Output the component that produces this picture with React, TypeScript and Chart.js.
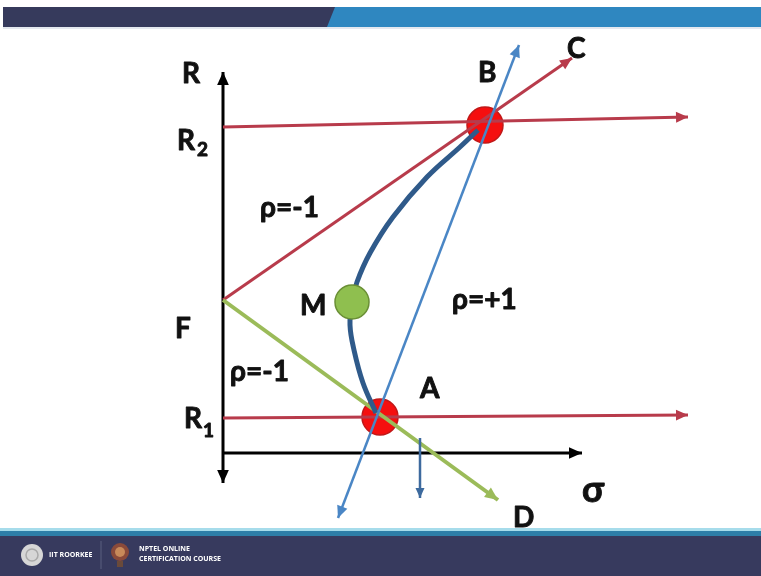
import React, { useEffect, useRef } from "react";
import { Chart, registerables } from "chart.js";

Chart.register(...registerables);

// Key portfolios on the risk (σ) / return (R) plane
const F = { sigma: 0, r: 3.825 };
const A = { sigma: 3.925, r: 0.9 };
const B = { sigma: 6.55, r: 8.2 };
const M = { sigma: 3.225, r: 3.775 };

// Straight reference lines: [start, end] as [σ, R]
const lineR2 = [[0, 8.15], [11.625, 8.4]];
const lineR1 = [[0, 0.875], [11.625, 0.95]];
const lineFC = [[F.sigma, F.r], [8.725, 9.875]];
const lineFD = [[F.sigma, F.r], [6.875, -1.175]];
const linePlusOne = [[2.875, -1.625], [7.4, 10.2]];
const axisR = [[0, -0.75], [0, 9.525]];
const axisSigma = [[0, 0], [8.975, 0]];
const dropArrow = [[4.925, 0.375], [4.925, -1.125]];

// Two-asset frontier from A through M to B
const frontierSigma = [3.825, 3.5, 3.275, 3.175, 3.225, 3.35, 3.675, 4.25, 5.1, 5.925, 6.375];
const frontierR = [1.0, 1.75, 2.575, 3.2, 3.775, 4.275, 5.0, 5.9, 6.9, 7.65, 8.075];

// Text labels: [text, σ, R, size]
const labels: [string, number, number, number][] = [
  ["R", -1.025, 9.25, 28],
  ["R", -1.15, 7.575, 28],
  ["2", -0.65, 7.425, 19],
  ["ρ=-1", 0.925, 5.9, 28],
  ["F", -1.2, 2.875, 28],
  ["ρ=-1", 0.175, 1.8, 28],
  ["R", -0.975, 0.625, 28],
  ["1", -0.5, 0.4, 19],
  ["M", 1.925, 3.45, 28],
  ["ρ=+1", 5.725, 3.6, 28],
  ["A", 4.925, 1.375, 28],
  ["B", 6.375, 9.275, 28],
  ["C", 8.6, 9.875, 28],
  ["D", 7.25, -1.85, 28],
  ["σ", 8.975, -1.225, 36],
];

const toPts = (seg: number[][]) => seg.map(([x, y]) => ({ x, y }));

const RED = "#b83b4b";
const BLUE = "#4a86c5";
const DARK_BLUE = "#2f5a8a";
const GREEN = "#9bbb59";

type Arrow = "end" | "both" | undefined;

function seg(data: number[][], color: string, width: number, order: number, arrow: Arrow, head = 12) {
  return {
    data: toPts(data),
    showLine: true,
    borderColor: color,
    backgroundColor: color,
    borderWidth: width,
    pointRadius: 0,
    order,
    arrow,
    head,
  } as any;
}

function drawHead(ctx: CanvasRenderingContext2D, from: { x: number; y: number }, to: { x: number; y: number }, color: string, size: number) {
  const ang = Math.atan2(to.y - from.y, to.x - from.x);
  const half = size * 0.45;
  ctx.save();
  ctx.fillStyle = color;
  ctx.beginPath();
  ctx.moveTo(to.x, to.y);
  ctx.lineTo(to.x - size * Math.cos(ang) + half * Math.sin(ang), to.y - size * Math.sin(ang) - half * Math.cos(ang));
  ctx.lineTo(to.x - size * Math.cos(ang) - half * Math.sin(ang), to.y - size * Math.sin(ang) + half * Math.cos(ang));
  ctx.closePath();
  ctx.fill();
  ctx.restore();
}

const arrowPlugin = {
  id: "arrowHeads",
  afterDatasetDraw(chart: any, args: any) {
    const ds = chart.data.datasets[args.index];
    if (!ds.arrow) return;
    const pts = args.meta.data;
    const n = pts.length;
    const ctx = chart.ctx;
    drawHead(ctx, pts[n - 2], pts[n - 1], ds.borderColor, ds.head);
    if (ds.arrow === "both") drawHead(ctx, pts[1], pts[0], ds.borderColor, ds.head);
  },
};

const slidePlugin = {
  id: "slideFrame",
  beforeDraw(chart: any) {
    const ctx = chart.ctx as CanvasRenderingContext2D;
    const w = chart.width;
    const h = chart.height;
    ctx.save();
    ctx.fillStyle = "#ffffff";
    ctx.fillRect(0, 0, w, h);
    // header band
    ctx.fillStyle = "#2f87c0";
    ctx.fillRect(3, 7, w - 3, 20);
    ctx.fillStyle = "#363a5c";
    ctx.beginPath();
    ctx.moveTo(3, 7);
    ctx.lineTo(335, 7);
    ctx.lineTo(327, 27);
    ctx.lineTo(3, 27);
    ctx.closePath();
    ctx.fill();
    ctx.fillStyle = "#e4e8ef";
    ctx.fillRect(3, 27, w - 3, 2);
    // footer band
    ctx.fillStyle = "#a6dceb";
    ctx.fillRect(0, 528, w, 3);
    ctx.fillStyle = "#2d7ea8";
    ctx.fillRect(0, 531, w, 5);
    ctx.fillStyle = "#373a5e";
    ctx.fillRect(0, 536, w, h - 536);
    // footer logos
    ctx.fillStyle = "#d6d6d6";
    ctx.beginPath();
    ctx.arc(32, 555, 11, 0, Math.PI * 2);
    ctx.fill();
    ctx.strokeStyle = "#a9a9a9";
    ctx.lineWidth = 1.5;
    ctx.beginPath();
    ctx.arc(32, 555, 6, 0, Math.PI * 2);
    ctx.stroke();
    ctx.strokeStyle = "#5a5e7e";
    ctx.lineWidth = 1;
    ctx.beginPath();
    ctx.moveTo(101, 541);
    ctx.lineTo(101, 569);
    ctx.stroke();
    ctx.fillStyle = "#8a4a3a";
    ctx.beginPath();
    ctx.arc(120, 552, 9, 0, Math.PI * 2);
    ctx.fill();
    ctx.fillStyle = "#c88a5a";
    ctx.beginPath();
    ctx.arc(120, 552, 5, 0, Math.PI * 2);
    ctx.fill();
    ctx.fillStyle = "#6a4a3a";
    ctx.fillRect(117, 561, 6, 6);
    ctx.fillStyle = "#ffffff";
    ctx.font = "bold 7px 'Open Sans', sans-serif";
    ctx.textBaseline = "middle";
    ctx.fillText("IIT ROORKEE", 49, 555);
    ctx.fillText("NPTEL ONLINE", 139, 549);
    ctx.fillText("CERTIFICATION COURSE", 139, 559);
    ctx.restore();
  },
};

const labelPlugin = {
  id: "diagramLabels",
  afterDatasetsDraw(chart: any) {
    const ctx = chart.ctx as CanvasRenderingContext2D;
    const xs = chart.scales.x;
    const ys = chart.scales.y;
    ctx.save();
    ctx.fillStyle = "#111111";
    ctx.strokeStyle = "#111111";
    ctx.lineWidth = 0.9;
    ctx.lineJoin = "round";
    ctx.textAlign = "left";
    ctx.textBaseline = "alphabetic";
    for (const [text, sx, sy, size] of labels) {
      ctx.font = `bold ${size}px Lato, 'Open Sans', sans-serif`;
      const px = xs.getPixelForValue(sx);
      const py = ys.getPixelForValue(sy);
      ctx.fillText(text, px, py);
      ctx.strokeText(text, px, py);
    }
    ctx.restore();
  },
};

export default function App() {
  const ref = useRef<HTMLCanvasElement>(null);

  useEffect(() => {
    document.body.style.margin = "0";
    const canvas = ref.current!;
    const chart = new Chart(canvas, {
      type: "scatter",
      data: {
        datasets: [
          {
            data: [{ x: A.sigma, y: A.r }, { x: B.sigma, y: B.r }],
            pointRadius: 18,
            pointBackgroundColor: "#f50f0f",
            pointBorderColor: "#c01818",
            pointBorderWidth: 1.5,
            showLine: false,
            order: 9,
          } as any,
          seg(axisR, "#000000", 3, 7, "both", 13),
          seg(axisSigma, "#000000", 3, 7, "end", 13),
          seg(lineR2, RED, 3, 6, "end", 12),
          seg(lineR1, RED, 3, 6, "end", 12),
          seg(lineFC, RED, 3, 6, "end", 12),
          seg(lineFD, GREEN, 4, 5, "end", 13),
          {
            data: frontierSigma.map((x, i) => ({ x, y: frontierR[i] })),
            showLine: true,
            borderColor: DARK_BLUE,
            borderWidth: 5,
            pointRadius: 0,
            tension: 0.4,
            order: 3,
          } as any,
          seg(linePlusOne, BLUE, 2.5, 2, "both", 12),
          seg(dropArrow, "#3d6a9e", 2.5, 2, "end", 10),
          {
            data: [{ x: M.sigma, y: M.r }],
            pointRadius: 17,
            pointBackgroundColor: "#8fbf4f",
            pointBorderColor: "#6a8f35",
            pointBorderWidth: 1.5,
            showLine: false,
            order: 0,
          } as any,
        ],
      },
      options: {
        animation: false,
        responsive: false,
        events: [],
        layout: { padding: 0, autoPadding: false },
        plugins: { legend: { display: false }, tooltip: { enabled: false } },
        scales: {
          x: { type: "linear", min: -5.575, max: 13.45, display: false },
          y: { type: "linear", min: -3.075, max: 11.325, display: false },
        },
      },
      plugins: [slidePlugin, arrowPlugin, labelPlugin],
    });
    return () => chart.destroy();
  }, []);

  return (
    <div style={{ position: "fixed", left: 0, top: 0, width: 761, height: 576 }}>
      <canvas ref={ref} width={761} height={576} style={{ width: 761, height: 576, display: "block" }} />
    </div>
  );
}
